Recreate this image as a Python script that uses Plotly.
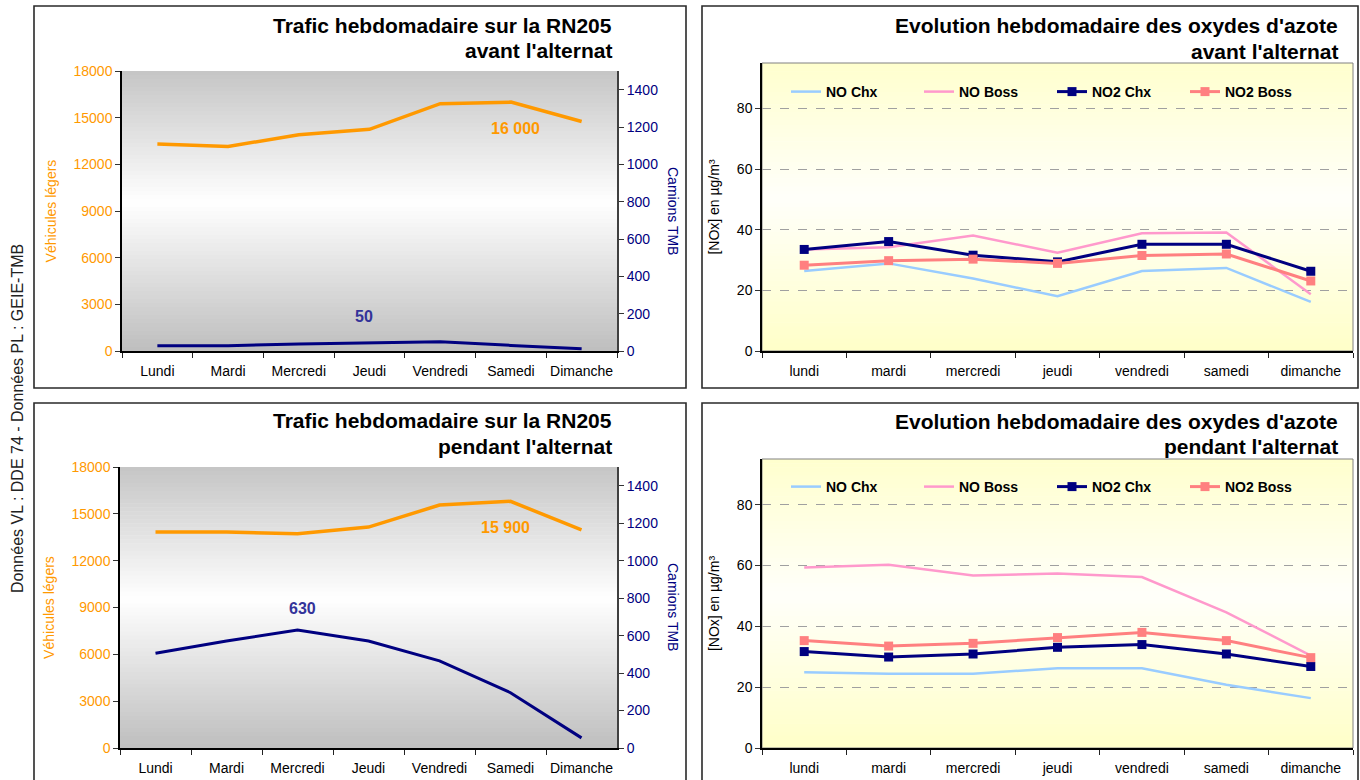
import plotly.graph_objects as go

# ---------------- data ----------------
jours = ["Lundi", "Mardi", "Mercredi", "Jeudi", "Vendredi", "Samedi", "Dimanche"]
jours_min = ["lundi", "mardi", "mercredi", "jeudi", "vendredi", "samedi", "dimanche"]

vl_avant = [13300, 13150, 13900, 14250, 15900, 16000, 14750]
pl_avant = [28, 28, 38, 42, 50, 30, 12]
vl_pendant = [13830, 13830, 13720, 14150, 15560, 15800, 13980]
pl_pendant = [506, 571, 630, 571, 465, 295, 54]

no_chx_avant = [26.4, 28.9, 23.9, 18.1, 26.4, 27.4, 16.2]
no_boss_avant = [33.5, 34.2, 38.1, 32.4, 38.8, 39.1, 18.7]
no2_chx_avant = [33.5, 36.1, 31.6, 29.4, 35.2, 35.2, 26.3]
no2_boss_avant = [28.3, 29.8, 30.3, 28.9, 31.5, 32.0, 23.1]

no_chx_pendant = [24.9, 24.4, 24.4, 26.2, 26.2, 20.8, 16.4]
no_boss_pendant = [59.3, 60.2, 56.7, 57.4, 56.2, 44.6, 30.4]
no2_chx_pendant = [31.7, 29.9, 30.9, 33.1, 34.0, 30.9, 26.8]
no2_boss_pendant = [35.3, 33.5, 34.4, 36.3, 38.0, 35.3, 29.7]

vl_ticks = [0, 3000, 6000, 9000, 12000, 15000, 18000]
pl_ticks = [0, 200, 400, 600, 800, 1000, 1200, 1400]
nox_ticks = [0, 20, 40, 60, 80]

# ---------------- style ----------------
W, H = 1360, 780
def fx(x): return x / W
def fy(y): return 1 - y / H

FONT = "Liberation Sans, Arial, sans-serif"
TFONT = "Liberation Sans, Arial, sans-serif"
ORANGE = "#FF9900"
NAVY = "#000080"
LBLUE = "#99CCFF"
PINK = "#FF99CC"
SALMON = "#FF8080"

fig = go.Figure()

# traffic charts
fig.add_trace(go.Scatter(x=jours, y=vl_avant, xaxis="x", yaxis="y", mode="lines",
                         line=dict(color=ORANGE, width=3.5), name="Véhicules légers", showlegend=False))
fig.add_trace(go.Scatter(x=jours, y=pl_avant, xaxis="x", yaxis="y2", mode="lines",
                         line=dict(color=NAVY, width=3), name="Camions TMB", showlegend=False))
fig.add_trace(go.Scatter(x=jours, y=vl_pendant, xaxis="x2", yaxis="y3", mode="lines",
                         line=dict(color=ORANGE, width=3.5), name="Véhicules légers", showlegend=False))
fig.add_trace(go.Scatter(x=jours, y=pl_pendant, xaxis="x2", yaxis="y4", mode="lines",
                         line=dict(color=NAVY, width=3), name="Camions TMB", showlegend=False))

# NOx charts
series = [
    ("NO Chx", no_chx_avant, no_chx_pendant, LBLUE, False, 2.5),
    ("NO Boss", no_boss_avant, no_boss_pendant, PINK, False, 2.5),
    ("NO2 Chx", no2_chx_avant, no2_chx_pendant, NAVY, True, 3),
    ("NO2 Boss", no2_boss_avant, no2_boss_pendant, SALMON, True, 3),
]
for name, av, pe, col, mk, lw in series:
    mode = "lines+markers" if mk else "lines"
    fig.add_trace(go.Scatter(x=jours_min, y=av, xaxis="x3", yaxis="y5", mode=mode, name=name,
                             line=dict(color=col, width=lw),
                             marker=dict(symbol="square", size=9, color=col),
                             legend="legend"))
    fig.add_trace(go.Scatter(x=jours_min, y=pe, xaxis="x4", yaxis="y6", mode=mode, name=name,
                             line=dict(color=col, width=lw),
                             marker=dict(symbol="square", size=9, color=col),
                             legend="legend2"))

# plot areas (pixels)
TL = (122, 617, 71, 351)
BL = (120, 617, 467, 748)
TR = (762, 1353, 63, 351)
BR = (762, 1353, 459, 748)

def xdom(a): return [fx(a[0]), fx(a[1])]
def ydom(a): return [fy(a[3]), fy(a[2])]

def cat_xaxis(area, anchor, font_size=14):
    return dict(domain=xdom(area), anchor=anchor, type="category", range=[-0.5, 6.5],
                tickson="boundaries", ticks="outside", ticklen=5, tickcolor="#222",
                showline=True, linecolor="black", linewidth=1.5, showgrid=False,
                tickangle=0, automargin=False,
                tickfont=dict(size=font_size, color="black", family=FONT),
                ticklabelstandoff=6)

def vl_axis(area, anchor):
    return dict(domain=ydom(area), anchor=anchor, range=[0, 18000], tickvals=vl_ticks,
                ticktext=[str(v) for v in vl_ticks], automargin=False,
                ticks="outside", ticklen=5, tickcolor="#333", showline=True, linecolor="black",
                linewidth=1.5, showgrid=False, zeroline=False,
                tickfont=dict(size=14, color=ORANGE, family=FONT),
                title=dict(text="Véhicules légers", font=dict(size=14, color=ORANGE, family=FONT),
                           standoff=14))

def pl_axis(overlay, anchor):
    return dict(overlaying=overlay, anchor=anchor, side="right", range=[0, 1500],
                tickvals=pl_ticks, ticks="outside", ticklen=5, tickcolor="#333", automargin=False,
                showline=True, linecolor="#404040", linewidth=2, showgrid=False, zeroline=False,
                tickfont=dict(size=14, color=NAVY, family=FONT))

def nox_axis(area, anchor):
    return dict(domain=ydom(area), anchor=anchor, range=[0, 95], tickvals=nox_ticks,
                ticks="outside", ticklen=5, tickcolor="#333", showline=True, linecolor="black",
                linewidth=1.5, showgrid=True, gridcolor="#A0A0A0", griddash="dash", gridwidth=1,
                zeroline=False, automargin=False,
                tickfont=dict(size=14, color="black", family=FONT),
                title=dict(text="[NOx] en µg/m³", font=dict(size=14, color="black", family=FONT),
                           standoff=14))

shapes = []

def gradient(area, edge, center, n=70):
    x0, x1, y0, y1 = area
    hgt = y1 - y0
    for i in range(n):
        a = y0 + hgt * i / n
        b = y0 + hgt * (i + 1) / n + 0.6
        t = (i + 0.5) / n
        d = min(1.0, abs(t - 0.47) / 0.53)
        c = [round(center[k] + (edge[k] - center[k]) * d) for k in range(3)]
        shapes.append(dict(type="rect", xref="paper", yref="paper", layer="below",
                           x0=fx(x0), x1=fx(x1), y0=fy(min(b, y1)), y1=fy(a),
                           fillcolor="rgb(%d,%d,%d)" % tuple(c), line=dict(width=0)))

gradient(TL, (190, 190, 190), (255, 255, 255))
gradient(BL, (190, 190, 190), (255, 255, 255))
gradient(TR, (255, 255, 200), (255, 255, 250))
gradient(BR, (255, 255, 200), (255, 255, 250))

for area in (TR, BR):
    shapes.append(dict(type="rect", xref="paper", yref="paper", layer="below",
                       x0=fx(area[0]), x1=fx(area[1]), y0=fy(area[3]), y1=fy(area[2]),
                       line=dict(color="#808080", width=1)))

# panel frames
for (x0, x1, y0, y1) in [(34, 686, 6, 388), (34, 686, 403, 800), (702, 1358, 6, 388), (702, 1358, 403, 800)]:
    shapes.append(dict(type="rect", xref="paper", yref="paper", layer="below",
                       x0=fx(x0), x1=fx(x1), y0=fy(y1), y1=fy(y0),
                       line=dict(color="#2a2a2a", width=1.6)))

annotations = []

def title(lines, xr, ys):
    for txt, y in zip(lines, ys):
        annotations.append(dict(text=txt, xref="paper", yref="paper", x=fx(xr), y=fy(y),
                                xanchor="right", yanchor="middle", showarrow=False,
                                font=dict(family=TFONT, size=21, color="black", weight="bold")))

title(["Trafic hebdomadaire sur la RN205", "avant l'alternat"], 614, [26, 51])
title(["Trafic hebdomadaire sur la RN205", "pendant l'alternat"], 614, [420, 446])
title(["Evolution hebdomadaire des oxydes d'azote", "avant l'alternat"], 1340, [26, 52])
title(["Evolution hebdomadaire des oxydes d'azote", "pendant l'alternat"], 1340, [421, 447])

def label(txt, x, y, col, size=16):
    annotations.append(dict(text=txt, xref="paper", yref="paper", x=fx(x), y=fy(y),
                            xanchor="center", yanchor="middle", showarrow=False,
                            font=dict(family=FONT, size=size, color=col, weight="bold")))

label("16 000", 515, 129, ORANGE)
label("50", 364, 316, "#333399")
label("15 900", 505, 527, ORANGE)
label("630", 302, 608, "#333399")

for yc in (211, 607):
    annotations.append(dict(text="Camions TMB", xref="paper", yref="paper", x=fx(673), y=fy(yc),
                            xanchor="center", yanchor="middle", showarrow=False, textangle=90,
                            font=dict(family=FONT, size=14, color=NAVY)))

annotations.append(dict(text="Données VL : DDE 74 - Données PL : GEIE-TMB", xref="paper", yref="paper",
                        x=fx(17), y=fy(419), xanchor="center", yanchor="middle", showarrow=False,
                        textangle=-90, font=dict(family=FONT, size=16, color="#222")))

leg = dict(orientation="h", xanchor="left", yanchor="middle", bgcolor="rgba(0,0,0,0)",
           font=dict(family=FONT, size=14, color="black", weight="bold"),
           entrywidth=88, entrywidthmode="pixels", itemwidth=30, tracegroupgap=0)

fig.update_layout(
    width=W, height=H, margin=dict(l=0, r=0, t=0, b=0, pad=0, autoexpand=False),
    paper_bgcolor="white", plot_bgcolor="rgba(0,0,0,0)",
    font=dict(family=FONT, size=14, color="black"),
    xaxis=cat_xaxis(TL, "y"),
    yaxis=vl_axis(TL, "x"),
    yaxis2=pl_axis("y", "x"),
    xaxis2=cat_xaxis(BL, "y3"),
    yaxis3=vl_axis(BL, "x2"),
    yaxis4=pl_axis("y3", "x2"),
    xaxis3=cat_xaxis(TR, "y5"),
    yaxis5=nox_axis(TR, "x3"),
    xaxis4=cat_xaxis(BR, "y6"),
    yaxis6=nox_axis(BR, "x4"),
    legend=dict(leg, x=fx(786), y=fy(92)),
    legend2=dict(leg, x=fx(786), y=fy(487)),
    shapes=shapes,
    annotations=annotations,
)

fig.write_html("out.html", config={"displayModeBar": False},
               post_script="document.body.style.margin='0';")
